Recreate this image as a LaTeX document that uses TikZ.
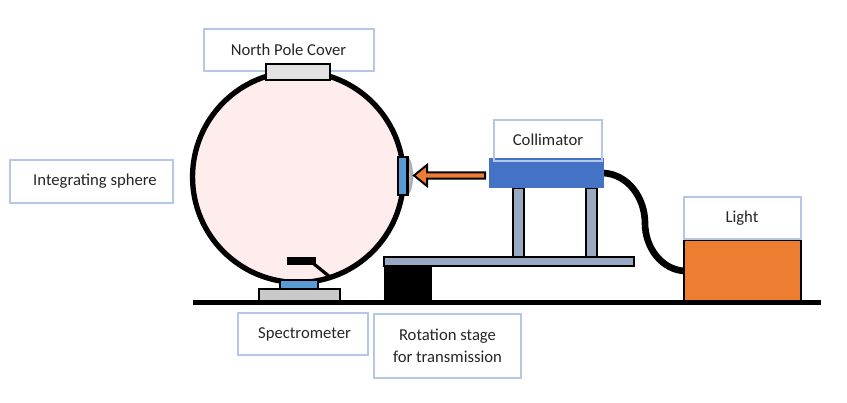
\documentclass[tikz,border=0pt]{standalone}
\usepackage{fontspec}
\setmainfont{Carlito}
\definecolor{labeledge}{HTML}{B4C7E7}
\definecolor{spherefill}{HTML}{FFECEC}
\definecolor{colblue}{HTML}{4472C4}
\definecolor{portblue}{HTML}{5B9BD5}
\definecolor{steel}{HTML}{9AA9C1}
\definecolor{lamp}{HTML}{ED7D31}
\definecolor{basegray}{HTML}{C9C9C9}
\definecolor{covergray}{HTML}{E2E2E2}
\tikzset{
  x=0.75pt, y=-0.75pt,
  labelbox/.style={draw=labeledge, line width=1.5pt, fill=white},
  labeltext/.style={font=\fontsize{12.5}{16.5}\selectfont, align=center, text=black!85, inner sep=0pt},
  part/.style={draw=black, line width=2pt},
}
\newcommand{\labelrect}[7]{% name, x0, y0, x1, y1, text centre x, text
  \draw[labelbox] (#2,#3) rectangle (#4,#5);
  \node[labeltext] (#1) at (#6,{(#3+#5)/2}) {#7};
}
\begin{document}
\begin{tikzpicture}
\useasboundingbox (0,0) rectangle (847,403);

% labels that sit behind the hardware
\labelrect{northlabel}{204}{29}{374}{71}{288.5}{North Pole Cover}
\labelrect{spherelabel}{10}{160}{173}{203}{95}{Integrating sphere}
\labelrect{speclabel}{238}{313}{368}{355}{304.5}{Spectrometer}
\labelrect{stagelabel}{374}{314}{521}{378}{447.5}{Rotation stage\\for transmission}

% integrating sphere
\node[circle, draw=black, line width=4pt, fill=spherefill, minimum size=158.2pt, inner sep=0pt] (sphere) at (298,177) {};

% north pole cover
\draw[part, fill=covergray] (266,64) rectangle (330,80);

% internal baffle and its support
\fill[black] (287,257) rectangle (316,265);
\draw[black, line width=2.4pt] (314,264) -- (330,277);

% spectrometer
\draw[part, fill=portblue] (280,280) rectangle (318,289);
\draw[part, fill=basegray] (259,289) rectangle (340,301);

% sample port and lens
\shade[inner color=gray!45, outer color=gray!70] (407,176) ellipse (6 and 19);
\draw[part, fill=portblue] (398,157) rectangle (407.5,195);

% beam arrow from the collimator
\draw[draw=black, line width=1.5pt, fill=lamp, line join=miter]
  (485,172.5) -- (427,172.5) -- (427,165) -- (414,175.5) -- (427,186) -- (427,178.5) -- (485,178.5) -- cycle;

% optical bench
\fill[black] (384,266) rectangle (432,301);
\draw[part, fill=steel] (384,257) rectangle (634,266);
\draw[part, fill=steel] (513,188) rectangle (524,257);
\draw[part, fill=steel] (586,188) rectangle (597,257);

% fibre cable
\coordinate (fibrestart) at (603,173);
\coordinate (fibreend) at (685,271);
\draw[black, line width=5pt] (fibrestart) .. controls (628,174) and (645,198) .. (645,223)
  .. controls (645,248) and (662,270) .. (fibreend);

% collimator body
\fill[colblue] (489,158) rectangle (604,188);
\labelrect{collabel}{494}{120}{602}{161}{548}{\raisebox{1pt}{Collimator}}
\fill[colblue] (495,160.4) -- (601,160.4) -- (601,158) -- (495,158) -- cycle;

% light source
\draw[part, fill=lamp] (684,240) rectangle (801,301);
\labelrect{lightlabel}{684}{197}{801}{239}{742}{Light}

% table top
\fill[black] (193,300) rectangle (821,304.5);
\end{tikzpicture}
\end{document}
